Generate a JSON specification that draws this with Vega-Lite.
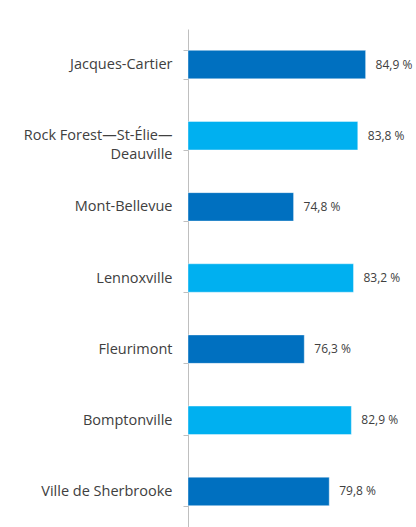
{
  "$schema": "https://vega.github.io/schema/vega-lite/v6.json",
  "autosize": {"type": "none"},
  "padding": {"left": 188, "top": 29, "right": 14, "bottom": 0},
  "width": 214,
  "height": 498,
  "background": "white",
  "config": {
    "view": {"stroke": null},
    "locale": {"number": {"decimal": ",", "thousands": " ", "grouping": [3], "currency": ["", " €"]}}
  },
  "data": {
    "values": [
      {"secteur": "Jacques-Cartier", "valeur": 84.9, "groupe": "a"},
      {"secteur": "Rock Forest—St-Élie—|Deauville", "valeur": 83.8, "groupe": "b"},
      {"secteur": "Mont-Bellevue", "valeur": 74.8, "groupe": "a"},
      {"secteur": "Lennoxville", "valeur": 83.2, "groupe": "b"},
      {"secteur": "Fleurimont", "valeur": 76.3, "groupe": "a"},
      {"secteur": "Bomptonville", "valeur": 82.9, "groupe": "b"},
      {"secteur": "Ville de Sherbrooke", "valeur": 79.8, "groupe": "a"}
    ]
  },
  "transform": [{"calculate": "format(datum.valeur, '.1f') + ' %'", "as": "etiquette"}],
  "encoding": {
    "y": {
      "field": "secteur", "type": "nominal", "sort": null,
      "scale": {"paddingInner": 0.6, "paddingOuter": 0.3},
      "axis": {
        "title": null,
        "tickBand": "extent",
        "domainColor": "#bfbfbf",
        "tickColor": "#bfbfbf",
        "tickSize": 5,
        "labelPadding": 11,
        "labelFont": "Open Sans",
        "labelFontSize": 14.5,
        "labelColor": "#404040",
        "labelLimit": 200,
        "labelLineHeight": 19,
        "labelExpr": "split(datum.label, '|')"
      }
    },
    "x": {
      "field": "valeur", "type": "quantitative",
      "scale": {"domain": [60, 90], "zero": false, "clamp": true},
      "axis": null
    }
  },
  "layer": [
    {
      "mark": {"type": "bar", "stroke": "white", "strokeOpacity": 0.4, "strokeWidth": 1},
      "encoding": {
        "color": {
          "field": "groupe", "type": "nominal", "legend": null,
          "scale": {"domain": ["a", "b"], "range": ["#0070c0", "#00b0f0"]}
        }
      }
    },
    {
      "mark": {"type": "text", "align": "left", "dx": 10, "font": "Open Sans", "fontSize": 12, "color": "#404040"},
      "encoding": {"text": {"field": "etiquette"}}
    }
  ]
}
